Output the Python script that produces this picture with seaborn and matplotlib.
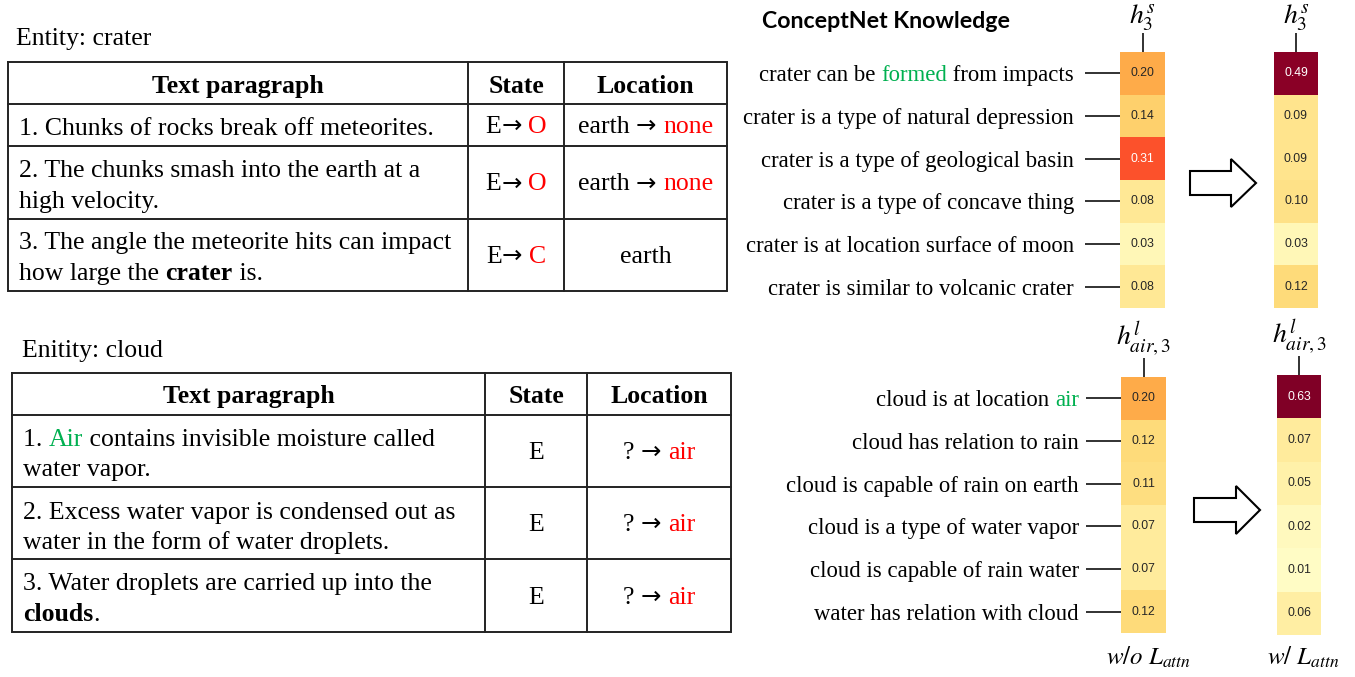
import numpy as np
import matplotlib
matplotlib.use("Agg")
import matplotlib.pyplot as plt
import seaborn as sns
from matplotlib.patches import Polygon

# ---- data ----
crater_rows = [
    [("crater can be ", "k"), ("formed", "g"), (" from impacts", "k")],
    [("crater is a type of natural depression", "k")],
    [("crater is a type of geological basin", "k")],
    [("crater is a type of concave thing", "k")],
    [("crater is at location surface of moon", "k")],
    [("crater is similar to volcanic crater", "k")],
]
crater_wo = [0.20, 0.14, 0.31, 0.08, 0.03, 0.08]
crater_w = [0.49, 0.09, 0.09, 0.10, 0.03, 0.12]

cloud_rows = [
    [("cloud is at location ", "k"), ("air", "g")],
    [("cloud has relation to rain", "k")],
    [("cloud is capable of rain on earth", "k")],
    [("cloud is a type of water vapor", "k")],
    [("cloud is capable of rain water", "k")],
    [("water has relation with cloud", "k")],
]
cloud_wo = [0.20, 0.12, 0.11, 0.07, 0.07, 0.12]
cloud_w = [0.63, 0.07, 0.05, 0.02, 0.01, 0.06]

ARW = "\u2192"
crater_table = [
    [[[("1. Chunks of rocks break off meteorites.", "k")]],
     [("E", "k"), (ARW, "a"), (" ", "k"), ("O", "r")], [("earth ", "k"), (ARW, "a"), (" ", "k"), ("none", "r")]],
    [[[("2. The chunks smash into the earth at a", "k")], [("high velocity.", "k")]],
     [("E", "k"), (ARW, "a"), (" ", "k"), ("O", "r")], [("earth ", "k"), (ARW, "a"), (" ", "k"), ("none", "r")]],
    [[[("3. The angle the meteorite hits can impact", "k")],
      [("how large the ", "k"), ("crater", "b"), (" is.", "k")]],
     [("E", "k"), (ARW, "a"), (" ", "k"), ("C", "r")], [("earth", "k")]],
]
cloud_table = [
    [[[("1. ", "k"), ("Air", "g"), (" contains invisible moisture called", "k")], [("water vapor.", "k")]],
     [("E", "k")], [("? ", "k"), (ARW, "a"), (" ", "k"), ("air", "r")]],
    [[[("2. Excess water vapor is condensed out as", "k")], [("water in the form of water droplets.", "k")]],
     [("E", "k")], [("? ", "k"), (ARW, "a"), (" ", "k"), ("air", "r")]],
    [[[("3. Water droplets are carried up into the", "k")], [("clouds", "b"), (".", "k")]],
     [("E", "k")], [("? ", "k"), (ARW, "a"), (" ", "k"), ("air", "r")]],
]

COL = {"k": "black", "g": "#00b050", "r": "#ff0000", "b": "black", "a": "black"}
SERIF = ["Liberation Serif", "DejaVu Serif"]
W, H = 1355, 677

plt.rcParams["mathtext.fontset"] = "stix"
fig = plt.figure(figsize=(W / 100, H / 100), dpi=100)
ov = fig.add_axes([0, 0, 1, 1])
ov.set_xlim(0, W)
ov.set_ylim(H, 0)
ov.axis("off")


def style(c, size):
    if c == "a":
        return dict(fontsize=size * 0.95, family=["DejaVu Sans"], color="black")
    return dict(fontsize=size, family=SERIF, color=COL[c], weight="bold" if c == "b" else "normal")


def rich(x, y, parts, size, ha="left"):
    """draw a line of text made of coloured / bold pieces"""
    seq = parts if ha == "left" else parts[::-1]
    prev = None
    for txt, c in seq:
        kw = style(c, size)
        if prev is None:
            prev = ov.text(x, y, txt, ha=ha, va="baseline", **kw)
        elif ha == "left":
            prev = ov.annotate(txt, xy=(1, 0), xycoords=prev, ha="left", va="bottom", **kw)
        else:
            prev = ov.annotate(txt, xy=(0, 0), xycoords=prev, ha="right", va="bottom", **kw)
    return prev


def centered(x, y, parts, size):
    r = fig.canvas.get_renderer()
    total = 0
    for txt, c in parts:
        t = ov.text(0, 0, txt, **style(c, size))
        total += t.get_window_extent(r).width
        t.remove()
    rich(x - total / 2, y, parts, size)


def table(x0, x1, c1, c2, rows_y, header_base, lines_base, rows, ent_txt, ent_xy):
    lw = 1.4
    ov.plot([x0, x1, x1, x0, x0], [rows_y[0], rows_y[0], rows_y[-1], rows_y[-1], rows_y[0]],
            color="#222222", lw=lw, solid_joinstyle="miter")
    for yy in rows_y[1:-1]:
        ov.plot([x0, x1], [yy, yy], color="#222222", lw=lw)
    for xx in (c1, c2):
        ov.plot([xx, xx], [rows_y[0], rows_y[-1]], color="#222222", lw=lw)
    fs = 18.5
    for txt, cx in (("Text paragraph", (x0 + c1) / 2), ("State", (c1 + c2) / 2), ("Location", (c2 + x1) / 2)):
        ov.text(cx, header_base, txt, ha="center", va="baseline", fontsize=fs, weight="bold", family=SERIF)
    for i, (para, state, loc) in enumerate(rows):
        for j, line in enumerate(para):
            rich(x0 + 11, lines_base[i][j], line, fs)
        mid = (rows_y[i + 1] + rows_y[i + 2]) / 2 + 8
        centered((c1 + c2) / 2, mid, state, fs)
        centered((c2 + x1) / 2, mid, loc, fs)
    ov.text(ent_xy[0], ent_xy[1], ent_txt, fontsize=18.5, family=SERIF, va="baseline")


table(8, 727, 468, 564, [62, 104, 146, 219, 291], 93,
      [[135], [177, 208], [249, 280]], crater_table, "Entity: crater", (16, 45))
table(12, 731, 485, 587, [373, 415, 487, 559, 632], 403,
      [[446, 476], [519, 549], [590, 621]], cloud_table, "Enitity: cloud", (22, 357))

ov.text(762, 22, "ConceptNet Knowledge", fontsize=16.7, weight="bold", family=["Lato", "DejaVu Sans"],
        va="center", ha="left")


def heat(rect, vals, col_label):
    x0, x1, y0, y1 = rect
    ax = fig.add_axes([x0 / W, 1 - y1 / H, (x1 - x0) / W, (y1 - y0) / H])
    sns.heatmap(np.array(vals).reshape(-1, 1), ax=ax, cmap="YlOrRd", vmin=0, vmax=0.5,
                annot=True, fmt=".2f", cbar=False, xticklabels=False, yticklabels=False,
                annot_kws={"size": 8.8, "family": ["Liberation Sans", "DejaVu Sans"]})
    ax.xaxis.tick_top()
    ax.set_xticks([0.5])
    ax.set_xticklabels([col_label], fontsize=20)
    ax.tick_params(axis="x", top=True, bottom=False, length=14, width=1.3, color="#222222", pad=0)
    return ax


def left_ticks(ax, rows, right_x):
    ax.set_yticks(np.arange(len(rows)) + 0.5)
    ax.set_yticklabels([])
    ax.tick_params(axis="y", left=True, length=25, width=1.3, color="#222222")
    ylo, yhi = ax.get_position().y0, ax.get_position().y1
    n = len(rows)
    for i, parts in enumerate(rows):
        yc = H - (yhi - (i + 0.5) / n * (yhi - ylo)) * H
        rich(right_x, yc + 8, parts, 16.4, ha="right")


a1 = heat((1120, 1165, 52, 308), crater_wo, r"$h_3^s$")
heat((1274, 1318, 52, 308), crater_w, r"$h_3^s$")
a3 = heat((1121, 1166, 377, 633), cloud_wo, r"$h_{air,3}^l$")
heat((1277, 1321, 375, 635), cloud_w, r"$h_{air,3}^l$")
left_ticks(a1, crater_rows, 1074)
left_ticks(a3, cloud_rows, 1079)

# hollow arrows between the maps
for (xa, xb, xc, yc) in ((1190, 1231, 1256, 183), (1194, 1236, 1260, 510)):
    pts = [(xa, yc - 12), (xb, yc - 12), (xb, yc - 24), (xc, yc), (xb, yc + 24), (xb, yc + 12), (xa, yc + 12)]
    ov.add_patch(Polygon(pts, closed=True, facecolor="white", edgecolor="black", lw=1.5))

ov.text(1148, 665, r"$w/o\ L_{attn}$", ha="center", va="baseline", fontsize=18)
ov.text(1303, 665, r"$w/\ L_{attn}$", ha="center", va="baseline", fontsize=18)

fig.savefig("out.png", dpi=100)
